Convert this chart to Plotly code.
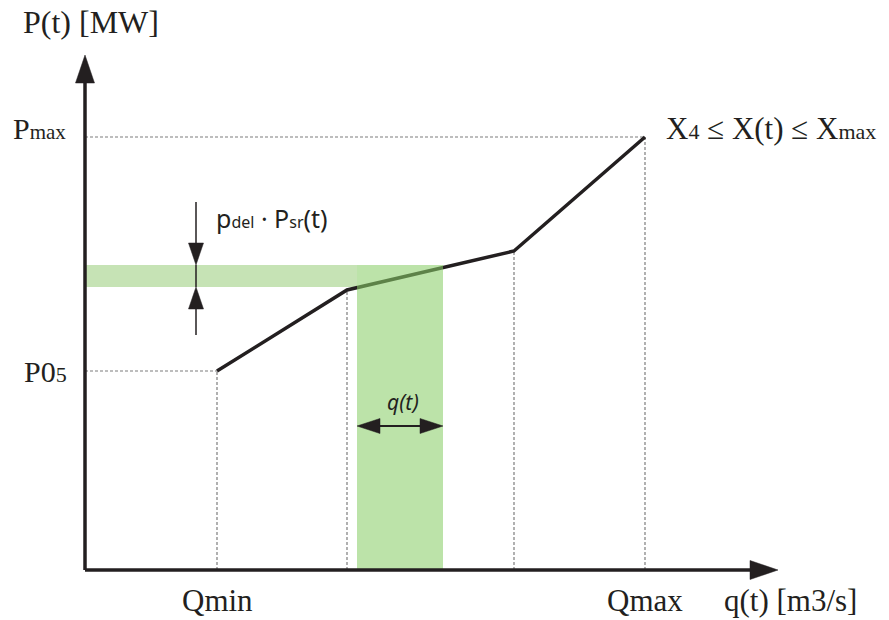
import plotly.graph_objects as go

# ---- schematic data (diagram units) ----
curve_q = [132, 262, 429, 560]        # Qmin, breakpoint, breakpoint, Qmax
curve_P = [199, 280, 319, 433]        # P05, ..., Pmax
band_q = [272, 358]                   # q(t) interval
band_P = [283, 305]                   # p_del * P_sr(t) interval
axis_end_q = 693
axis_end_P = 515

x_tick_vals = [curve_q[0], curve_q[-1]]
x_tick_text = ["Qmin", "Qmax"]
y_tick_vals = [curve_P[0], curve_P[-1]]
y_tick_text = ["P0<span style='font-size:22px'>5</span>",
               "P<span style='font-size:21px'>max</span>"]

SERIF = "Liberation Serif, Times New Roman, serif"
SANS = "Noto Sans, Open Sans, sans-serif"
INK = "#231f20"
DOT = "#7d7d7d"

fig = go.Figure()

# main piecewise curve
fig.add_trace(go.Scatter(x=curve_q, y=curve_P, mode="lines",
                         line=dict(color=INK, width=3.5), hoverinfo="skip",
                         showlegend=False))

shapes = []
# horizontal band (below)
shapes.append(dict(type="rect", xref="x", yref="y", x0=0, x1=band_q[0],
                   y0=band_P[0], y1=band_P[1], line_width=0,
                   fillcolor="#c6e3b5", layer="below"))

# dotted guide lines
def dline(x0, y0, x1, y1):
    return dict(type="line", xref="x", yref="y", x0=x0, y0=y0, x1=x1, y1=y1,
                line=dict(color=DOT, width=1.2, dash="3px,2px"), layer="below")

shapes.append(dline(0, curve_P[-1], curve_q[-1], curve_P[-1]))
shapes.append(dline(0, curve_P[0], curve_q[0], curve_P[0]))
for q, p in zip(curve_q, curve_P):
    shapes.append(dline(q, 0, q, p))

# vertical band (above the curve, translucent)
shapes.append(dict(type="rect", xref="x", yref="y", x0=band_q[0], x1=band_q[1],
                   y0=0, y1=band_P[1], line_width=0,
                   fillcolor="rgba(138,205,103,0.57)", layer="above"))

def tri(points, color=INK):
    path = "M " + " L ".join(f"{x},{y}" for x, y in points) + " Z"
    return dict(type="path", xref="x", yref="y", path=path, fillcolor=color,
                line=dict(color=color, width=0.5), layer="above")

def seg(x0, y0, x1, y1, w):
    return dict(type="line", xref="x", yref="y", x0=x0, y0=y0, x1=x1, y1=y1,
                line=dict(color=INK, width=w), layer="above")

# axes with arrows
shapes.append(seg(0, 0, axis_end_q - 26, 0, 3.5))
shapes.append(tri([(axis_end_q - 28, 9.5), (axis_end_q, 0), (axis_end_q - 28, -9.5)]))
shapes.append(seg(0, 0, 0, axis_end_P - 26, 3.5))
shapes.append(tri([(-9.5, axis_end_P - 28), (0, axis_end_P), (9.5, axis_end_P - 28)]))

# p_del * P_sr(t) double arrow
ax_q = 111
shapes.append(seg(ax_q, band_P[1] + 63, ax_q, band_P[1] + 20, 1.5))
shapes.append(tri([(ax_q - 7.5, band_P[1] + 22), (ax_q, band_P[1]), (ax_q + 7.5, band_P[1] + 22)]))
shapes.append(seg(ax_q, band_P[0] - 48, ax_q, band_P[0] - 20, 1.5))
shapes.append(tri([(ax_q - 7.5, band_P[0] - 22), (ax_q, band_P[0]), (ax_q + 7.5, band_P[0] - 22)]))
shapes.append(seg(ax_q, band_P[0], ax_q, band_P[1], 1.5))

# q(t) double arrow
ay = 144
shapes.append(seg(band_q[0] + 20, ay, band_q[1] - 20, ay, 1.8))
shapes.append(tri([(band_q[0] + 23, ay + 7.5), (band_q[0], ay), (band_q[0] + 23, ay - 7.5)]))
shapes.append(tri([(band_q[1] - 23, ay + 7.5), (band_q[1], ay), (band_q[1] - 23, ay - 7.5)]))

annotations = []
def txt(x, y, text, size=31, anchor="center", family=SERIF, yshift=0, xshift=0):
    annotations.append(dict(x=x, y=y, xref="x", yref="y", text=text, showarrow=False,
                            xanchor=anchor, yanchor="middle", xshift=xshift, yshift=yshift,
                            font=dict(family=family, size=size, color=INK)))

txt(6, 548, "P(t) [MW]", size=32)
txt(-17, y_tick_vals[1], y_tick_text[1], size=30, anchor="right", yshift=9)
txt(-16, y_tick_vals[0], y_tick_text[0], size=30, anchor="right")
txt(x_tick_vals[0], -30, x_tick_text[0], size=31)
txt(x_tick_vals[1], -30, x_tick_text[1], size=31)
txt(637, -30, "q(t) [m3/s]", size=31, anchor="left")
txt(curve_q[-1] + 19, curve_P[-1], "X<span style='font-size:22px'>4</span> ≤ X(t) ≤ X<span style='font-size:22px'>max</span>",
    size=31, anchor="left", yshift=9)
txt(129, 352, "p<span style='font-size:16px'>del</span> · P<span style='font-size:16px'>sr</span>(t)",
    size=25, anchor="left", family=SANS)
txt(318, 168, "<i>q(t)</i>", size=21, family=SANS)

fig.update_layout(
    width=889, height=620, autosize=False,
    margin=dict(l=0, r=0, t=0, b=0),
    paper_bgcolor="white", plot_bgcolor="white",
    xaxis=dict(range=[-85, 804], visible=False, fixedrange=True),
    yaxis=dict(range=[-50, 570], visible=False, fixedrange=True),
    shapes=shapes, annotations=annotations, showlegend=False,
)

fig.write_html("out.html", config={"displayModeBar": False, "staticPlot": True},
               post_script="document.body.style.margin='0px';document.body.style.overflow='hidden';")
